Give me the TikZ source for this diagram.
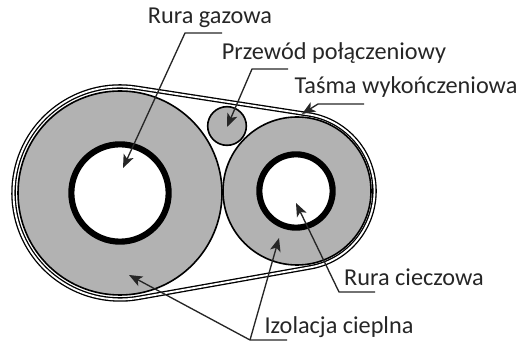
\documentclass[tikz,border=0pt]{standalone}
\usepackage{fontspec}
\setmainfont{Carlito}
\usetikzlibrary{arrows.meta, calc}

\begin{document}
\begin{tikzpicture}[
  x=0.75pt, y=0.75pt,
  insul/.style={circle, draw=black, line width=1.2pt, fill=gray!60!white, inner sep=0pt},
  pipe/.style={circle, draw=black, line width=4.6pt, fill=white, inner sep=0pt},
  tape/.style={draw=black, line width=1pt, double=white, double distance=1.4pt},
  lbl/.style={font=\fontsize{18.2pt}{20pt}\selectfont, text=black!85, inner sep=0pt},
  arr/.style={-{Stealth[length=10pt, width=8pt, inset=2.5pt]}, line width=1pt, black!85, line join=round}
]
  \useasboundingbox (0,0) rectangle (518,342);

  % pipes and insulation
  \node[insul, minimum size=153pt] (gasins) at (120,149) {};
  \node[insul, minimum size=111pt] (liqins) at (297,151) {};
  \node[pipe, minimum size=73pt] (gaspipe) at (120,149) {};
  \node[pipe, minimum size=55pt] (liqpipe) at (296,151) {};
  \node[insul, minimum size=29pt] (link) at (227,216) {};

  % tape
  \draw[tape] ($(gasins)+(81.2:106.5)$) arc[start angle=81.2, end angle=280.1, radius=106.5]
    -- ($(liqins)+(280.1:77.5)$) arc[start angle=280.1, end angle=441.2, radius=77.5] -- cycle;

  % labels
  \node[lbl] (lgas) at (210,324) {Rura gazowa};
  \node[lbl] (llink) at (334,289) {Przewód połączeniowy};
  \node[lbl] (ltape) at (406,255) {Taśma wykończeniowa};
  \node[lbl] (lliq) at (414,65) {Rura cieczowa};
  \node[lbl] (lins) at (339,15) {Izolacja cieplna};

  % arrow tips and corners
  \coordinate (tgas) at (123,174);
  \coordinate (cgas) at (185,309);
  \coordinate (egas) at (222,309);
  \coordinate (tlink) at (227,215);
  \coordinate (clink) at (252,273);
  \coordinate (elink) at (288,273);
  \coordinate (ttape) at (302,228);
  \coordinate (ctape) at (318,238);
  \coordinate (etape) at (364,238);
  \coordinate (tliq) at (296,139);
  \coordinate (cliq) at (339,50);
  \coordinate (eliq) at (375,50);
  \coordinate (tinsa) at (129,67);
  \coordinate (tinsb) at (279,104);
  \coordinate (cins) at (250,2);
  \coordinate (eins) at (287,2);

  \draw[arr] (egas) -- (cgas) -- (tgas);
  \draw[arr] (elink) -- (clink) -- (tlink);
  \draw[arr] (etape) -- (ctape) -- (ttape);
  \draw[arr] (eliq) -- (cliq) -- (tliq);
  \draw[arr] (eins) -- (cins) -- (tinsa);
  \draw[arr] (cins) -- (tinsb);
\end{tikzpicture}
\end{document}
